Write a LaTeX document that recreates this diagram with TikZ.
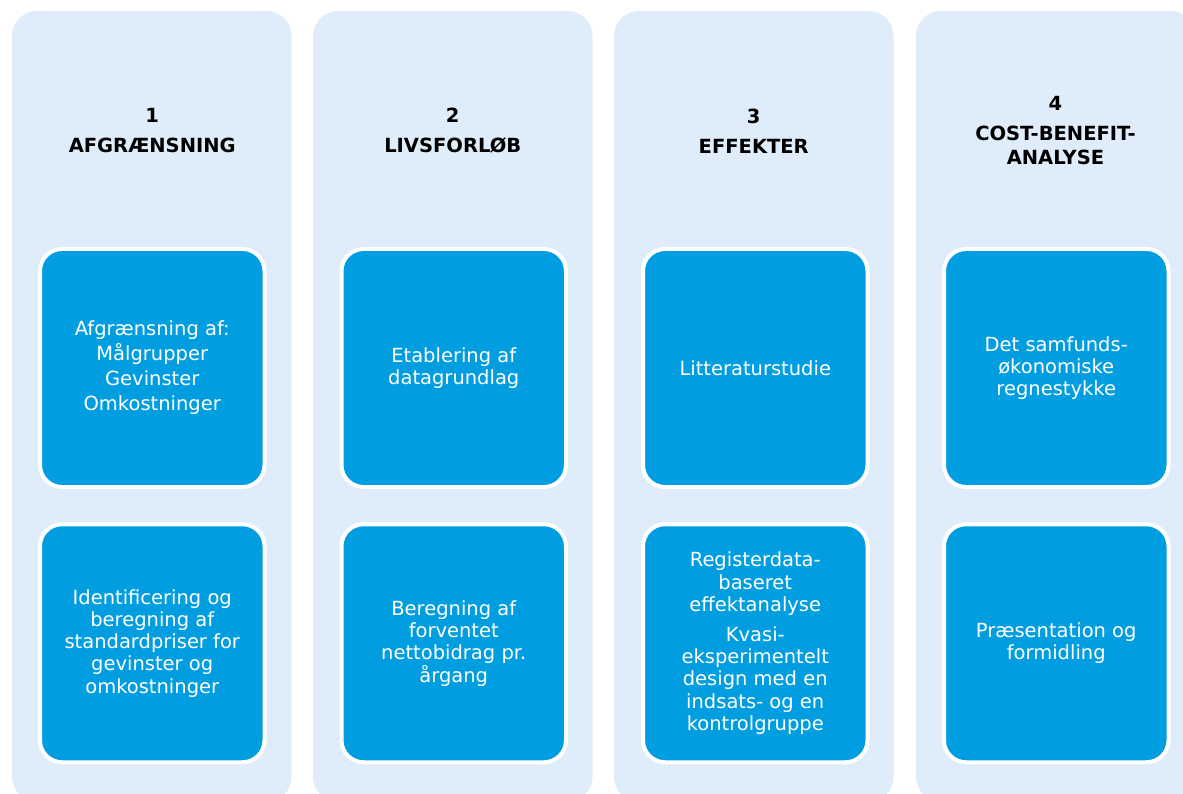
\documentclass[tikz,border=0pt]{standalone}
\usepackage{fontspec}
\setmainfont{DejaVu Sans}
\definecolor{colbg}{RGB}{223,236,249}
\definecolor{boxblue}{RGB}{0,158,224}
\tikzset{
  panel/.style={fill=colbg, rounded corners=25pt},
  stepbox/.style={draw=white, line width=4pt, fill=boxblue, rounded corners=22pt,
    minimum width=224.5pt, minimum height=238pt, inner sep=0pt,
    text=white, align=center, font=\fontsize{19.5}{22.3}\selectfont},
  heading/.style={align=center, text=black, inner sep=0pt,
    font=\bfseries\fontsize{19.5}{24}\selectfont},
}
\begin{document}
\begin{tikzpicture}[x=1pt, y=-1pt]
\useasboundingbox (0,0) rectangle (1183,794);
\clip (0,0) rectangle (1183,794);

% background panels, one per phase
\foreach \i/\xl in {1/12, 2/313, 3/614, 4/916}{
  \fill[panel] (\xl,11) rectangle ++(279.5,791);
}

% phase headings
\node[heading] (h1) at (152.25,131) {1\\[6pt]AFGRÆNSNING};
\node[heading] (h2) at (452.75,131) {2\\[6pt]LIVSFORLØB};
\node[heading] (h3) at (753.75,131) {3\\[6pt]EFFEKTER};
\node[heading] (h4) at (1055.5,131) {4\\[6pt]COST-BENEFIT-\\ANALYSE};

% upper row of steps
\node[stepbox] (a1) at (152.25,368) {Afgrænsning af:\\[2.7pt]Målgrupper\\[2.7pt]Gevinster\\[2.7pt]Omkostninger};
\node[stepbox] (a2) at (453.75,368) {Etablering af\\datagrundlag};
\node[stepbox] (a3) at (755.25,368) {Litteraturstudie};
\node[stepbox] (a4) at (1056.25,368) {Det samfunds-\\økonomiske\\regnestykke};

% lower row of steps
\node[stepbox] (b1) at (152.25,643.25) {Identificering og\\beregning af\\standardpriser for\\gevinster og\\omkostninger};
\node[stepbox] (b2) at (453.75,643.25) {Beregning af\\forventet\\nettobidrag pr.\\årgang};
\node[stepbox] (b3) at (755.25,643.25) {Registerdata-\\baseret\\effektanalyse\\[7.7pt]Kvasi-\\eksperimentelt\\design med en\\indsats- og en\\kontrolgruppe};
\node[stepbox] (b4) at (1056.25,643.25) {Præsentation og\\formidling};
\end{tikzpicture}
\end{document}
